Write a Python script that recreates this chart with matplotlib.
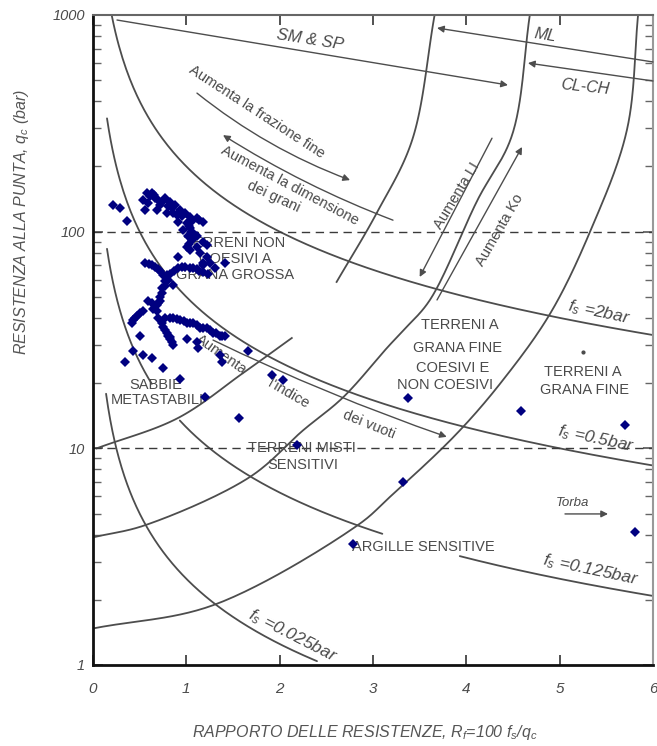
import numpy as np
import matplotlib
matplotlib.use('Agg')
import matplotlib.pyplot as plt

plt.rcParams['mathtext.fontset'] = 'custom'
plt.rcParams['mathtext.it'] = 'Liberation Sans:italic'
plt.rcParams['mathtext.rm'] = 'Liberation Sans'
plt.rcParams['font.family'] = ['Liberation Sans', 'DejaVu Sans']

# ---------------- data ----------------
rf_points = [0.21, 0.29, 0.36,
             0.58, 0.63, 0.66, 0.54, 0.59, 0.56, 0.69, 0.72, 0.77, 0.83, 0.88, 0.93, 0.86, 0.79, 0.99,
             1.04, 1.11, 1.18, 0.91, 1.01, 0.96, 1.04, 1.07, 1.02, 1.11,
             0.61, 0.65, 0.70, 0.75, 0.80, 0.85, 0.90, 0.95, 1.06, 1.14,
             1.03, 1.05, 1.06, 1.03,
             1.01, 1.04, 1.11, 1.18, 1.22, 1.15, 1.22, 1.18, 1.25, 1.31, 1.41, 0.91,
             0.56, 0.63, 0.70, 0.75, 0.83, 0.91, 0.99, 1.04, 1.11, 1.18, 1.23, 1.18, 0.80, 0.86, 0.77,
             0.60, 0.66, 0.72, 0.79, 0.87, 0.95, 1.07, 1.14,
             0.74, 0.72, 0.69, 0.63, 0.59, 0.69, 0.70, 0.64,
             0.77, 0.74, 0.72, 0.70,
             0.54, 0.47, 0.43, 0.42, 0.50, 0.45,
             0.77, 0.86, 0.93, 1.01, 1.07, 1.15, 1.22, 1.29, 1.36, 1.41,
             0.82, 0.90, 0.97, 1.04, 1.11, 1.18, 1.25, 1.32, 1.38,
             0.74, 0.77, 0.80, 0.83, 0.86, 0.75, 0.79, 0.82, 0.85,
             0.50, 1.01, 1.11, 1.13, 1.36, 1.38, 1.66, 0.43, 0.54, 0.63, 0.34, 0.75, 0.93,
             1.20, 1.56, 2.19, 1.92, 2.04, 3.37, 4.59, 5.70, 5.81, 3.32, 2.79]
qc_points = [133, 128.6, 112,
             151, 151, 143, 140, 136, 126, 126, 133, 143, 137, 133, 126, 122, 122, 122,
             117, 116, 111, 111, 110, 102, 104, 99, 95, 95,
             146, 148, 140, 138, 132, 128, 120, 118, 112, 113,
             106, 100, 92, 88,
             85, 82, 85, 90, 87, 80, 76, 72, 72, 68, 72, 76,
             72, 70, 67, 63, 64, 68, 69, 68, 67, 65, 64, 70, 60, 57, 56,
             71, 69, 66, 63, 66, 69, 68, 66,
             52, 48, 46, 47, 48, 43, 40, 44,
             59, 55, 50, 47,
             43, 41, 39, 38, 42, 40,
             40, 40, 39, 38, 38, 36, 36, 34, 33, 33,
             40, 39.5, 38.5, 38, 37, 36, 35, 34, 33,
             38, 35, 33, 32, 30, 36.5, 34, 32.5, 31,
             33, 32, 31, 29, 27, 25, 28, 28, 27, 26, 25, 23.5, 21,
             17.3, 13.8, 10.4, 21.8, 20.7, 17.0, 14.8, 12.8, 4.1, 7.0, 3.6]

fs_values = [2.0, 0.5, 0.125, 0.025]
fs_segments = [[(0.2, 6.0)], [(0.15, 6.0)], [(0.15, 0.63), (0.93, 3.1), (3.93, 6.0)], [(0.14, 2.4)]]
fs_label_text = ['=2bar', '=0.5bar', '=0.125bar', '=0.025bar']
fs_label_rf = [5.42, 5.39, 5.33, 2.14]
fs_label_qc = [42.2, 11.0, 2.74, 1.36]
fs_label_rot = [-12, -12, -12, -27]

boundary_a_rf = [3.66, 3.42, 3.04, 2.61]
boundary_a_qc = [1000, 265, 122, 58.6]
boundary_b_rf = [0.02, 0.56, 1.68, 2.25, 2.68, 3.16, 3.33, 3.61, 4.12, 4.49, 4.68]
boundary_b_qc = [3.9, 4.42, 7.37, 12.1, 17.2, 29.4, 35.2, 48.4, 140, 279, 1000]
boundary_c_rf = [0.02, 1.29, 2.84, 3.18, 3.89, 4.39, 4.9, 5.33, 5.72, 5.84]
boundary_c_qc = [1.48, 1.89, 4.43, 5.96, 11.6, 20.6, 42, 101, 294, 1000]
boundary_d_rf = [0.04, 0.91, 1.61, 2.13]
boundary_d_qc = [10.0, 13.8, 22.3, 32.3]

x_ticks = [0, 1, 2, 3, 4, 5, 6]
y_ticks = [1, 10, 100, 1000]

LINE = '#4d4d4d'
TXT = '#4a4a4a'
NARROW = ['Liberation Sans', 'DejaVu Sans']

# ---------------- helpers ----------------
K = 216.67 / 93.33


def smooth(xs, ys, n=30):
    P = np.column_stack([np.asarray(xs, float), K * np.log10(np.asarray(ys, float))])
    P = np.vstack([2 * P[0] - P[1], P, 2 * P[-1] - P[-2]])
    out = []
    for i in range(1, len(P) - 2):
        p0, p1, p2, p3 = P[i - 1], P[i], P[i + 1], P[i + 2]
        t0 = 0.0
        t1 = t0 + np.linalg.norm(p1 - p0) ** 0.5 + 1e-9
        t2 = t1 + np.linalg.norm(p2 - p1) ** 0.5 + 1e-9
        t3 = t2 + np.linalg.norm(p3 - p2) ** 0.5 + 1e-9
        t = np.linspace(t1, t2, n)[:, None]
        A1 = (t1 - t) / (t1 - t0) * p0 + (t - t0) / (t1 - t0) * p1
        A2 = (t2 - t) / (t2 - t1) * p1 + (t - t1) / (t2 - t1) * p2
        A3 = (t3 - t) / (t3 - t2) * p2 + (t - t2) / (t3 - t2) * p3
        B1 = (t2 - t) / (t2 - t0) * A1 + (t - t0) / (t2 - t0) * A2
        B2 = (t3 - t) / (t3 - t1) * A2 + (t - t1) / (t3 - t1) * A3
        C = (t2 - t) / (t2 - t1) * B1 + (t - t1) / (t2 - t1) * B2
        out.append(C)
    C = np.vstack(out)
    return C[:, 0], 10 ** (C[:, 1] / K)


fig = plt.figure(figsize=(6.57, 7.46), dpi=100)
ax = fig.add_axes([93 / 657, 1 - 665 / 746, 560 / 657, 650 / 746])
ax.set_xlim(0, 6)
ax.set_yscale('log')
ax.set_ylim(1, 1000)

# fs contour lines
for fs, segs in zip(fs_values, fs_segments):
    for a, b in segs:
        xx = np.linspace(a, b, 300)
        ax.plot(xx, 100 * fs / xx, color=LINE, lw=1.3, solid_capstyle='round')

for bx, by in [(boundary_a_rf, boundary_a_qc), (boundary_b_rf, boundary_b_qc),
               (boundary_c_rf, boundary_c_qc), (boundary_d_rf, boundary_d_qc)]:
    sx, sy = smooth(bx, by)
    ax.plot(sx, sy, color=LINE, lw=1.3)

# dashed reference lines
for yv in [10, 100]:
    ax.axhline(yv, color='#3a3a3a', lw=1.0, dashes=(6, 4))


def arrow(x0, y0, x1, y1, rad=0.0, heads='-|>'):
    ax.annotate('', xy=(x1, y1), xytext=(x0, y0),
                arrowprops=dict(arrowstyle=heads, color=LINE, lw=1.0, shrinkA=0, shrinkB=0,
                                mutation_scale=10,
                                connectionstyle='arc3,rad=%s' % rad))


arrow(0.257, 948, 4.446, 475)          # SM & SP
arrow(6.0, 607, 3.686, 871)            # ML
arrow(6.0, 496, 4.66, 600)             # CL-CH
arrow(1.114, 436, 2.754, 173, rad=0.08)   # frazione fine
arrow(3.214, 113, 1.393, 279, rad=-0.05)  # dimensione grani
arrow(1.286, 31.6, 3.79, 11.3, rad=0.03)  # indice dei vuoti
arrow(4.275, 270, 3.5, 61.8, rad=0.0)     # LI
arrow(3.686, 48.4, 4.597, 246, rad=0.0)   # Ko
arrow(5.057, 4.98, 5.518, 4.98)           # Torba


# labels
def lab(x, y, s, rot=0, size=10, style='normal', family=None):
    ax.text(x, y, s, rotation=rot, ha='center', va='center', fontsize=size, color=TXT,
            style=style, rotation_mode='anchor', family=family or NARROW)


lab(2.325, 767, 'SM & SP', -9, 12, 'italic')
lab(4.84, 809, 'ML', -9, 11.5, 'italic')
lab(5.27, 465, 'CL-CH', -6, 11.5, 'italic')
lab(1.75, 357, 'Aumenta la frazione fine', -33, 10.5)
lab(2.11, 164, 'Aumenta la dimensione', -28, 10.5)
lab(1.93, 144.5, 'dei grani', -25, 10.5)
lab(1.52, 88.7, 'TERRENI NON', 0, 10.5)
lab(1.52, 74.8, 'COESIVI A', 0, 10.5)
lab(1.52, 63.1, 'GRANA GROSSA', 0, 10.5)
lab(3.90, 146, 'Aumenta LI', 59, 10.5)
lab(4.36, 101.8, 'Aumenta Ko', 60, 10.5)
lab(3.93, 37.1, 'TERRENI A', 0, 10.5)
lab(3.91, 29.0, 'GRANA FINE', 0, 10.5)
lab(3.85, 23.5, 'COESIVI E', 0, 10.5)
lab(3.77, 19.6, 'NON COESIVI', 0, 10.5)
lab(5.25, 22.5, 'TERRENI A', 0, 10.5)
lab(5.27, 18.6, 'GRANA FINE', 0, 10.5)
lab(1.371, 27.0, 'Aumenta', -35, 10.5)
lab(2.09, 17.8, "l'indice", -30, 10.5)
lab(2.96, 12.8, 'dei vuoti', -22, 10.5)
lab(0.675, 19.6, 'SABBIE', 0, 10.5)
lab(0.686, 16.7, 'METASTABILI', 0, 10.5)
lab(2.24, 10.03, 'TERRENI MISTI', 0, 10.5)
lab(2.25, 8.38, 'SENSITIVI', 0, 10.5)
lab(3.54, 3.5, 'ARGILLE SENSITIVE', 0, 10.5)
lab(5.14, 5.6, 'Torba', 0, 9.5, 'italic')
ax.plot([5.25], [27.8], marker='o', ms=2, color=TXT)

for i in range(len(fs_values)):
    lab(fs_label_rf[i], fs_label_qc[i], r'$f_s$ ' + fs_label_text[i], fs_label_rot[i], 12.5, 'italic')

# data points
ax.plot(rf_points, qc_points, ls='none', marker='D', ms=5.3, mew=0, color='#000080', zorder=5)

# axes styling
ax.set_xticks(x_ticks)
ax.set_xticklabels([str(v) for v in x_ticks], fontsize=11, style='italic', color=TXT)
ax.set_yticks(y_ticks)
ax.set_yticklabels([str(v) for v in y_ticks], fontsize=10.5, style='italic', color=TXT)
ax.tick_params(axis='x', direction='in', length=7, width=1.2, color='#333', top=True, pad=12)
ax.tick_params(axis='y', which='major', direction='in', length=7, width=1.2, color='#555', right=True, pad=6)
ax.tick_params(axis='y', which='minor', direction='in', length=6, width=1.0, color='#666', right=True)
ax.yaxis.set_minor_formatter(matplotlib.ticker.NullFormatter())
for s in ['left', 'bottom']:
    ax.spines[s].set_linewidth(2.0)
    ax.spines[s].set_color('#111')
ax.spines['top'].set_color('#666')
ax.spines['top'].set_linewidth(1.5)
ax.spines['right'].set_color('#999')
ax.spines['right'].set_linewidth(1.5)

fig.text(365 / 657, 1 - 733 / 746, r'RAPPORTO DELLE RESISTENZE, $R_f$=100 $f_s$/$q_c$',
         ha='center', va='center', fontsize=11.5, style='italic', color='#555')
fig.text(22 / 657, 1 - 222 / 746, r'RESISTENZA ALLA PUNTA, $q_c$ (bar)', rotation=90,
         ha='center', va='center', fontsize=11.5, style='italic', color='#555')

fig.savefig('out.png', dpi=100)
